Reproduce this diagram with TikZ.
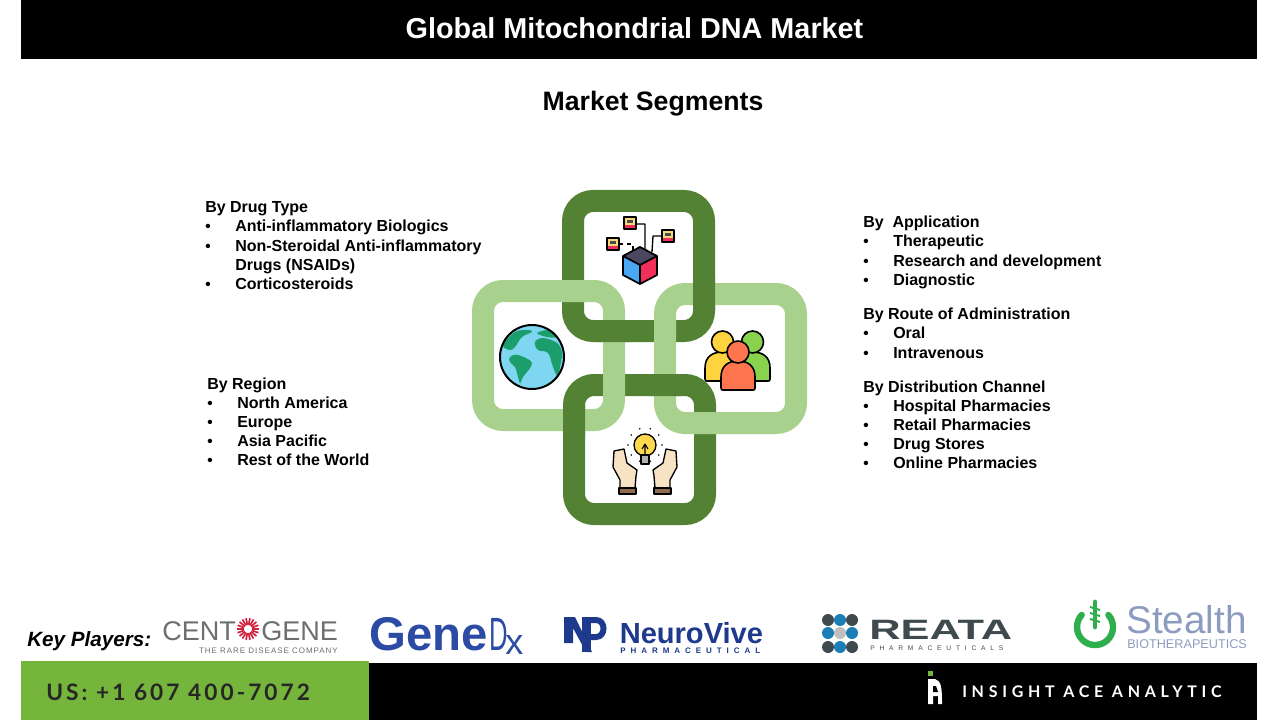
\documentclass[tikz,border=0pt]{standalone}
\usepackage{fontspec}
\setmainfont{Liberation Sans}
\newfontfamily\phonefont[LetterSpace=13.5]{Lato}
\newfontfamily\footfont[LetterSpace=29.5]{Lato}
\newfontfamily\subfont[LetterSpace=12]{Liberation Sans}
\newfontfamily\vivefont[LetterSpace=62]{Liberation Sans}
\newfontfamily\reatafont[LetterSpace=72]{Liberation Sans}
\definecolor{ringdark}{HTML}{548235}
\definecolor{ringlight}{HTML}{A9D18E}
\definecolor{phonegreen}{HTML}{76B53B}
\definecolor{genedxblue}{HTML}{2C4BA5}
\definecolor{vivenavy}{HTML}{1E3A8C}
\definecolor{centogray}{HTML}{6D6E70}
\definecolor{burstred}{HTML}{D0233F}
\definecolor{reatagray}{HTML}{3F4A4E}
\definecolor{reatablue}{HTML}{1B7FB5}
\definecolor{stealthblue}{HTML}{8C9CC0}
\definecolor{stealthgreen}{HTML}{2FAE4E}
\definecolor{handskin}{HTML}{F8E2C4}
\definecolor{cuffbrown}{HTML}{8A6B52}
\definecolor{cubeblue}{HTML}{4AA8F5}
\definecolor{cubered}{HTML}{F0305A}
\definecolor{cubetop}{HTML}{4A4860}
\definecolor{boxyellow}{HTML}{F6D77A}
\definecolor{oceanblue}{HTML}{7FD6F0}
\definecolor{landgreen}{HTML}{1B9E6B}
\definecolor{peopleyellow}{HTML}{FFD23F}
\definecolor{peoplegreen}{HTML}{88D24E}
\definecolor{peoplered}{HTML}{FF7550}
\definecolor{bulbyellow}{HTML}{FFD84D}
\tikzset{
  segtext/.style={anchor=base west,inner sep=0pt,font=\fontsize{12}{14}\selectfont\bfseries},
  segbullet/.style={anchor=base west,inner sep=0pt,font=\fontsize{11.5}{14}\selectfont\bfseries},
  plaintext/.style={anchor=base west,inner sep=0pt},
  ringd/.style={draw=ringdark,line width=16.5pt,rounded corners=15pt},
  ringl/.style={draw=ringlight,line width=16.5pt,rounded corners=15pt},
  iconline/.style={draw=black,line width=1pt,line join=round},
}
\begin{document}
\begin{tikzpicture}[x=0.75pt,y=0.75pt,yscale=-1,xscale=1]
\useasboundingbox (0,0) rectangle (1280,720);

%Shape: header and footer bars
\fill [black] (21,0) rectangle (1257,59);
\fill [black] (369,663) rectangle (1257,720);
\fill [phonegreen] (21,661) rectangle (369,720);

% Text Node
\node [plaintext,anchor=base,text=white,font=\fontsize{21.6}{24}\selectfont\bfseries] (title) at (634.5,39) {Global Mitochondrial DNA Market};
\node [plaintext,anchor=base,font=\fontsize{20}{24}\selectfont\bfseries] (segments) at (653,111) {Market Segments};

%Shape: interlocked rings
\draw [ringd] (573,201) rectangle (704,331);
\draw [ringd] (574,385) rectangle (705,514);
\draw [ringl] (483,291) rectangle (614,420);
\draw [ringl] (665,294) rectangle (796,423);
\begin{scope}
\clip (598,315) rectangle (630,347);
\draw [ringd] (573,201) rectangle (704,331);
\end{scope}
\begin{scope}
\clip (688,278) rectangle (720,310);
\draw [ringd] (573,201) rectangle (704,331);
\end{scope}
\begin{scope}
\clip (558,404) rectangle (590,436);
\draw [ringd] (574,385) rectangle (705,514);
\end{scope}
\begin{scope}
\clip (649,369) rectangle (681,401);
\draw [ringd] (574,385) rectangle (705,514);
\end{scope}

%Shape: network cube icon
\draw [iconline] (636,224) -- (645,224) -- (645,250) (663,236) -- (653,236) -- (652,252);
\draw [iconline,dashed] (619,244) -- (633,244) -- (633,251);
\foreach \bx/\by in {630/223,668/236,613/244} {
  \fill [boxyellow] (\bx-6,\by-6) rectangle (\bx+6,\by+6);
  \fill [cubered] (\bx-6,\by+2) rectangle (\bx+6,\by+6);
  \fill [black!70] (\bx-3,\by-3) rectangle (\bx+3,\by);
  \draw [iconline] (\bx-6,\by-6) rectangle (\bx+6,\by+6);
}
\fill [cubeblue] (623,256) -- (640,265) -- (640,284) -- (623,275) -- cycle;
\fill [cubered] (640,265) -- (657,256) -- (657,275) -- (640,284) -- cycle;
\fill [cubetop] (640,247) -- (657,256) -- (640,265) -- (623,256) -- cycle;
\draw [iconline,line width=1.3pt] (640,247) -- (657,256) -- (657,275) -- (640,284) -- (623,275) -- (623,256) -- cycle (623,256) -- (640,265) -- (657,256) (640,265) -- (640,284);

%Shape: globe icon
\fill [oceanblue] (532,357) circle [radius=32];
\fill [landgreen] plot [smooth cycle,tension=0.6] coordinates {(503,345) (515,332) (528,330) (532,332) (522,337) (515,347) (510,350)};
\fill [landgreen] plot [smooth cycle,tension=0.6] coordinates {(510,357) (518,355) (532,363) (523,377) (520,383) (517,373) (515,367) (510,362)};
\fill [landgreen] plot [smooth cycle,tension=0.6] coordinates {(535,342) (543,338) (557,343) (562,353) (560,367) (558,377) (553,367) (548,353) (538,350)};
\fill [landgreen] plot [smooth cycle,tension=0.6] coordinates {(537,333) (550,330) (557,337) (547,337)};
\draw [iconline,line width=1.5pt] (532,357) circle [radius=32];

%Shape: people icon
\foreach \px/\pw/\ptop/\pbot/\hy/\pcol in {705/35/352/381/342/peopleyellow,735/35/352/381/342/peoplegreen,721/34/361/390/352/peoplered} {
  \draw [iconline,line width=1.2pt,fill=\pcol] (\px,\pbot-2) -- (\px,\ptop+16) .. controls (\px,\ptop+5) and (\px+7,\ptop) .. (\px+\pw/2,\ptop) .. controls (\px+\pw-7,\ptop) and (\px+\pw,\ptop+5) .. (\px+\pw,\ptop+16) -- (\px+\pw,\pbot-2) .. controls (\px+\pw,\pbot) and (\px+\pw-1,\pbot) .. (\px+\pw-2,\pbot) -- (\px+2,\pbot) .. controls (\px+1,\pbot) and (\px,\pbot) .. (\px,\pbot-2) -- cycle;
  \draw [iconline,line width=1.2pt,fill=\pcol] (\px+\pw/2,\hy) circle [radius=11];
}

%Shape: hands and bulb icon
\foreach \sx/\ox in {1/0,-1/1290} {
  \draw [iconline,fill=handskin] ({\ox+\sx*614},451) -- ({\ox+\sx*624},449) -- ({\ox+\sx*627},463) -- ({\ox+\sx*637},470) -- ({\ox+\sx*636},476) -- ({\ox+\sx*635},488) -- ({\ox+\sx*620},488) -- ({\ox+\sx*620},480) -- ({\ox+\sx*613},467) -- cycle;
  \draw [iconline,fill=cuffbrown] ({\ox+\sx*619},488) rectangle ({\ox+\sx*636},494);
}
\draw [iconline,fill=bulbyellow] (645,445) circle [radius=11];
\draw [iconline,fill=black!30] (641,455) rectangle (649,464);
\draw [iconline,line width=.8pt] (642,449) -- (645,444) -- (648,449) (645,444) -- (645,455);
\foreach \ang in {0,36,...,324} {
  \fill (645,445) ++(\ang:17) circle [radius=0.9];
}

% Text Node
\node [segtext] (drughead) at (205,213) {By Drug Type};
\foreach \txt/\y [count=\i] in {Anti-inflammatory Biologics/232,Non-Steroidal Anti-inflammatory/252,Corticosteroids/289} {
  \node [segbullet] (drugbullet\i) at (205,\y) {•};
  \node [segtext] (drug\i) at (235,\y) {\txt};
}
\node [segtext] (drugcont) at (235,270) {Drugs (NSAIDs)};

\node [segtext] (regionhead) at (207,389) {By Region};
\foreach \txt [count=\i] in {North America,Europe,Asia Pacific,Rest of the World} {
  \node [segbullet] (regionbullet\i) at (207,389+19*\i) {•};
  \node [segtext] (region\i) at (237,389+19*\i) {\txt};
}

\node [segtext] (apphead) at (863,228) {By~~Application};
\foreach \txt [count=\i] in {Therapeutic,Research and development,Diagnostic} {
  \node [segbullet] (appbullet\i) at (863,228+19*\i) {•};
  \node [segtext] (app\i) at (893,228+19*\i) {\txt};
}

\node [segtext] (routehead) at (863,319) {By Route of Administration};
\foreach \txt/\y [count=\i] in {Oral/338,Intravenous/358} {
  \node [segbullet] (routebullet\i) at (863,\y) {•};
  \node [segtext] (route\i) at (893,\y) {\txt};
}

\node [segtext] (channelhead) at (863,392) {By Distribution Channel};
\foreach \txt [count=\i] in {Hospital Pharmacies,Retail Pharmacies,Drug Stores,Online Pharmacies} {
  \node [segbullet] (channelbullet\i) at (863,392+19*\i) {•};
  \node [segtext] (channel\i) at (893,392+19*\i) {\txt};
}

\node [plaintext,font=\fontsize{15.5}{20}\selectfont\bfseries\itshape] (players) at (27,646) {Key Players:};

%Shape: Centogene logo
\node [plaintext,text=centogray,font=\fontsize{20.3}{24}\selectfont] (cento) at (162,640) {CENT};
\node [plaintext,text=centogray,font=\fontsize{20.3}{24}\selectfont] (gene) at (261,640) {GENE};
\foreach \ang in {0,20,...,340} {
  \draw [burstred,line width=1.3pt] (248,629) ++(\ang:4) -- ++(\ang:7);
}
\node [plaintext,anchor=base east,text=centogray,font=\fontsize{6}{8}\selectfont\subfont] (centosub) at (338,653) {THE RARE DISEASE COMPANY};

%Shape: GeneDx logo
\node [plaintext,text=genedxblue,font=\fontsize{35.5}{40}\selectfont\bfseries] (genedx) at (369,650) {Gene};
\node [plaintext,text=genedxblue,font=\fontsize{35}{40}\selectfont] (genedxd) at (489,650) {\scalebox{0.55}[1]{D}};
\node [plaintext,text=genedxblue,font=\fontsize{27}{30}\selectfont] (genedxx) at (505,654) {x};

%Shape: NeuroVive logo
\fill [vivenavy] (564,617) -- (575,617) -- (592,652) -- (586,652) -- (573,628) -- (573,643) -- (564,643) -- cycle;
\fill [vivenavy] (582,617) -- (591,617) -- (591,652) -- (582,652) -- cycle;
\draw [vivenavy,line width=4.5pt] (588,620) -- (596,620) .. controls (606,620) and (606,637) .. (596,637) -- (588,637);
\node [plaintext,text=vivenavy,font=\fontsize{21.8}{26}\selectfont\bfseries] (neurovive) at (619.5,643) {NeuroVive};
\node [plaintext,text=vivenavy,font=\fontsize{6}{8}\selectfont\vivefont\bfseries] (vivesub) at (620,653) {PHARMACEUTICAL};

%Shape: Reata logo
\foreach \px/\py/\dotcol in {828/620/reatagray,840/620/reatablue,852/620/reatagray,828/633/reatablue,840/633/black!25,852/633/reatablue,828/647/reatagray,840/647/reatablue,852/647/reatagray} {
  \fill [\dotcol] (\px,\py) circle [radius=6];
}
\node [plaintext,text=reatagray,font=\fontsize{21}{24}\selectfont\bfseries] (reata) at (869,639) {\scalebox{1.55}[1]{REATA}};
\node [plaintext,text=reatagray,font=\fontsize{5}{7}\selectfont\reatafont] (reatasub) at (870,650) {PHARMACEUTICALS};

%Shape: Stealth logo
\draw [stealthgreen,line width=4.8pt,line cap=round] (1108.4,615) arc [start angle=-42,end angle=222,radius=18];
\draw [stealthgreen,line width=3.6pt,line cap=round] (1095,602) -- (1095,627);
\draw [stealthgreen,line width=1.5pt] (1090,607) -- (1100,610) (1090,613) -- (1100,616) (1090,619) -- (1100,622);
\node [plaintext,text=stealthblue,font=\fontsize{29}{32}\selectfont] (stealth) at (1126,633) {\smash{Stealth}};
\node [plaintext,text=stealthblue,font=\fontsize{9.5}{10}\selectfont] (stealthsub) at (1127,648) {BIOTHERAPEUTICS};

% Text Node
\node [plaintext,text=black!85,font=\fontsize{17}{20}\selectfont\phonefont\bfseries] (phone) at (46,700) {US: +1 607 400-7072};

%Shape: Insight Ace mark
\fill [phonegreen] (928,671) rectangle (933,676);
\fill [white] (928,704) -- (928,679) -- (935,679) .. controls (941,681) and (942,686) .. (942,704) -- (938,704) -- (938,696) -- (933,696) -- (933,704) -- cycle;
\fill [black] (933,686) -- (936,686) -- (938,692) -- (933,692) -- cycle;
\node [plaintext,text=white,font=\fontsize{12}{14}\selectfont\footfont\bfseries] (insight) at (962,697) {INSIGHT ACE ANALYTIC};
\end{tikzpicture}
\end{document}
